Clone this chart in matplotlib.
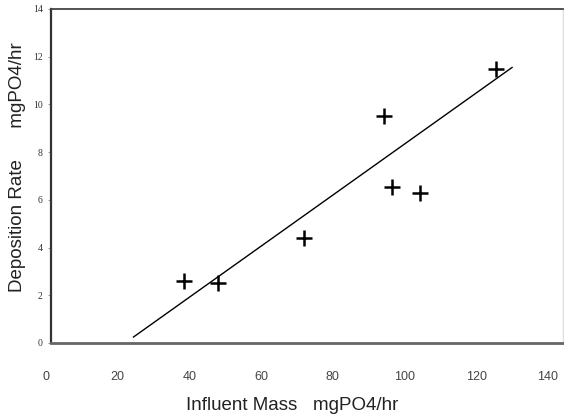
import numpy as np
import matplotlib
matplotlib.use("Agg")
import matplotlib.pyplot as plt
from matplotlib.transforms import ScaledTranslation

# measured points
influent = [37, 46.5, 70.5, 93, 95, 102.8, 124]
deposition = [2.6, 2.5, 4.4, 9.5, 6.55, 6.3, 11.5]

# trend line end points
line_x = [23, 128.6]
line_y = [0.25, 11.55]

xticks = [0, 20, 40, 60, 80, 100, 120, 140]
yticks = [0, 2, 4, 6, 8, 10, 12, 14]

fig = plt.figure(figsize=(5.64, 4.16), dpi=100)
ax = fig.add_axes([51 / 564, 1 - 343 / 416, 512 / 564, 334 / 416])

ax.plot(line_x, line_y, color='black', lw=1.0)
ax.plot(influent, deposition, linestyle='none', marker='+', markersize=12,
        markeredgewidth=1.8, color='black')

ax.set_xlim(0, 142.8)
ax.set_ylim(0, 14)

ax.set_xticks(xticks)
ax.set_xticklabels([str(t) for t in xticks], color='#444444', fontsize=9,
                   family='Liberation Sans')
ax.tick_params(axis='x', length=0, pad=20.5)
shift = ScaledTranslation(-5 / 100, 0, fig.dpi_scale_trans)
for lab in ax.get_xticklabels():
    lab.set_transform(lab.get_transform() + shift)

ax.set_yticks(yticks)
ax.set_yticklabels([str(t) for t in yticks], fontsize=7, family='Liberation Serif',
                   color='#333333')
ax.tick_params(axis='y', length=2, width=0.6, pad=4, color='#888888')

ax.spines['left'].set_color('#333333')
ax.spines['left'].set_linewidth(1.6)
ax.spines['bottom'].set_color('#666666')
ax.spines['bottom'].set_linewidth(2.0)
ax.spines['top'].set_color('#444444')
ax.spines['top'].set_linewidth(1.3)
ax.spines['right'].set_color('#dddddd')
ax.spines['right'].set_linewidth(1.0)

ax.set_xlabel('Influent Mass   mgPO4/hr', fontsize=13.5, color='#222222',
              family='Liberation Sans', labelpad=10)
ax.xaxis.label.set_x((292 - 51) / 512)
ax.set_ylabel('Deposition Rate      mgPO4/hr', fontsize=13.5, color='#222222',
              family='Liberation Sans', labelpad=5)
ax.yaxis.label.set_y((343 - 167) / 334)

fig.savefig('out.png', dpi=100)
